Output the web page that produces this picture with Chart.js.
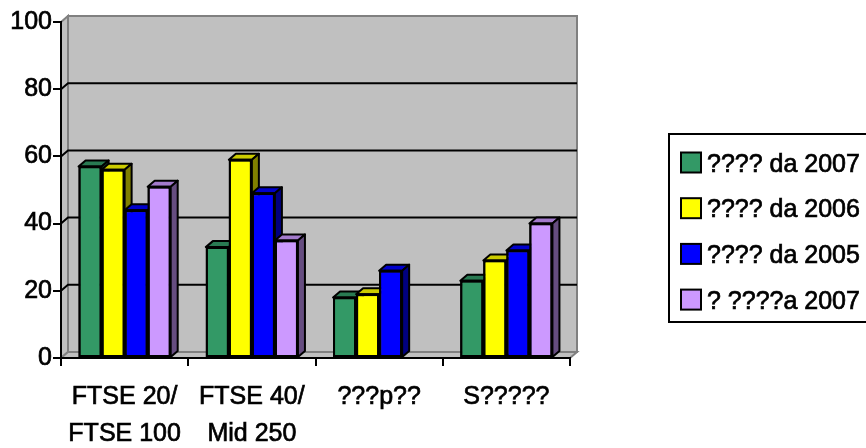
<!DOCTYPE html>
<html>
<head>
<meta charset="utf-8">
<script src="https://cdn.jsdelivr.net/npm/chart.js@4/dist/chart.umd.min.js"></script>
<style>
  html, body { margin: 0; padding: 0; background: #ffffff; overflow: hidden; }
  #wrap { width: 866px; height: 448px; position: relative; }
</style>
</head>
<body>
<div id="wrap"><canvas id="chart" width="866" height="448"></canvas></div>
<script>
// ---- data ----
const categories = [['FTSE 20/', 'FTSE 100'], ['FTSE 40/', 'Mid 250'], '???p??', 'S?????'];
const seriesNames = ['???? da 2007', '???? da 2006', '???? da 2005', '? ????a 2007'];
const values2007 = [57, 33, 18, 23];
const values2006 = [56, 59, 19, 29];
const values2005 = [44, 49, 26, 32];
const valuesAlt2007 = [51, 35, null, 40];
const yTickValues = [0, 20, 40, 60, 80, 100];

// ---- look ----
const seriesColors = ['#339966', '#ffff00', '#0000ff', '#cc99ff'];
const FONT = "'Liberation Sans', Arial, sans-serif";
const TEXT_STROKE = 0.7;         // slightly heavier lettering
const DX = 7, DY = 6;            // oblique depth of walls and columns
const WALL = '#c0c0c0', WALL_EDGE = '#808080';

function shade(hex, f) {
  const n = parseInt(hex.slice(1), 16);
  const r = Math.round(((n >> 16) & 255) * f);
  const g = Math.round(((n >> 8) & 255) * f);
  const b = Math.round((n & 255) * f);
  return `rgb(${r},${g},${b})`;
}

function poly(ctx, pts, fill, stroke, lw) {
  ctx.beginPath();
  ctx.moveTo(pts[0][0], pts[0][1]);
  for (let i = 1; i < pts.length; i++) ctx.lineTo(pts[i][0], pts[i][1]);
  ctx.closePath();
  if (fill) { ctx.fillStyle = fill; ctx.fill(); }
  if (stroke) { ctx.strokeStyle = stroke; ctx.lineWidth = lw || 1; ctx.stroke(); }
}

// Walls, floor and back gridlines of the 3-D box
const boxPlugin = {
  id: 'box3d',
  beforeDraw(chart) {
    const { ctx, chartArea: a, scales: { y } } = chart;
    const L = a.left, R = a.right, T = a.top, B = a.bottom;
    ctx.save();
    ctx.lineJoin = 'miter';
    // back wall
    poly(ctx, [[L + DX, T - DY], [R + DX, T - DY], [R + DX, B - DY], [L + DX, B - DY]], WALL, WALL_EDGE, 2);
    // side wall
    poly(ctx, [[L, T], [L + DX, T - DY], [L + DX, B - DY], [L, B]], WALL, WALL_EDGE, 2);
    // floor
    poly(ctx, [[L, B], [L + DX, B - DY], [R + DX, B - DY], [R, B]], WALL, WALL_EDGE, 2);
    // gridlines on side and back walls
    ctx.strokeStyle = '#000000';
    ctx.lineWidth = 2;
    yTickValues.forEach(v => {
      if (v === y.min || v === y.max) return;
      const py = y.getPixelForValue(v);
      ctx.beginPath();
      ctx.moveTo(L, py);
      ctx.lineTo(L + DX, py - DY);
      ctx.lineTo(R + DX, py - DY);
      ctx.stroke();
    });
    ctx.restore();
  },
  // columns drawn left to right so each one hides the side of its neighbour
  afterDatasetsDraw(chart) {
    const { ctx } = chart;
    ctx.save();
    chart.data.datasets.forEach((ds, i) => {
      const meta = chart.getDatasetMeta(i);
      const base = ds.backgroundColor;
      meta.data.forEach((bar, j) => {
        if (ds.data[j] == null) return;
        const p = bar.getProps(['x', 'y', 'width', 'base'], true);
        const l = p.x - p.width / 2, r = p.x + p.width / 2;
        const top = p.y, bot = p.base;
        bar.draw(ctx, chart.chartArea);
        ctx.lineJoin = 'round';
        poly(ctx, [[l, top], [l + DX, top - DY], [r + DX, top - DY], [r, top]], shade(base, 0.8), '#000000', 2);
        poly(ctx, [[r, top], [r + DX, top - DY], [r + DX, bot - DY], [r, bot]], shade(base, 0.5), '#000000', 2);
        ctx.strokeStyle = '#000000';
        ctx.lineWidth = 2;
        ctx.strokeRect(l + 1, top, p.width - 2, bot - top);
      });
    });
    ctx.restore();
  },
  // boxed legend on the right
  afterDraw(chart) {
    const { ctx, chartArea: a } = chart;
    const bx = a.right + 99, by = 134, bh = 188;
    ctx.save();
    ctx.strokeStyle = '#000000';
    ctx.lineWidth = 2;
    ctx.beginPath();
    ctx.moveTo(chart.width + 5, by);
    ctx.lineTo(bx, by);
    ctx.lineTo(bx, by + bh);
    ctx.lineTo(chart.width + 5, by + bh);
    ctx.stroke();
    ctx.font = `25px ${FONT}`;
    ctx.textBaseline = 'alphabetic';
    ctx.textAlign = 'left';
    chart.data.datasets.forEach((ds, i) => {
      const cy = by + 28.5 + i * 45.7;
      ctx.fillStyle = ds.backgroundColor;
      ctx.lineWidth = 2;
      ctx.fillRect(bx + 12, cy - 10, 20, 20);
      ctx.strokeRect(bx + 12, cy - 10, 20, 20);
      ctx.fillStyle = '#000000';
      ctx.lineWidth = TEXT_STROKE;
      ctx.strokeText(ds.label, bx + 38, cy + 9);
      ctx.fillText(ds.label, bx + 38, cy + 9);
    });
    ctx.restore();
  }
};

const seriesValues = [values2007, values2006, values2005, valuesAlt2007];

new Chart(document.getElementById('chart'), {
  type: 'bar',
  data: {
    labels: categories,
    datasets: seriesNames.map((name, i) => ({
      label: name,
      data: seriesValues[i],
      backgroundColor: seriesColors[i],
      borderColor: '#000000',
      borderWidth: 2,
      borderSkipped: false,
      categoryPercentage: 0.724,
      barPercentage: 1.0
    }))
  },
  options: {
    responsive: false,
    devicePixelRatio: 1,
    animation: false,
    layout: { padding: { left: 0, right: 296, top: 22, bottom: 0 } },
    plugins: { legend: { display: false }, tooltip: { enabled: false } },
    scales: {
      x: {
        offset: true,
        grid: { offset: true, drawOnChartArea: false, drawTicks: true, tickLength: 8, color: '#000000', lineWidth: 2 },
        border: { display: true, color: '#000000', width: 2 },
        ticks: {
          color: '#000000', padding: 13, maxRotation: 0, autoSkip: false,
          textStrokeColor: '#000000', textStrokeWidth: TEXT_STROKE,
          font: { family: FONT, size: 25, lineHeight: 1.48 }
        },
        afterFit(s) { s.height = 90; }
      },
      y: {
        min: 0,
        max: 100,
        afterBuildTicks(s) { s.ticks = yTickValues.map(v => ({ value: v })); },
        grid: { drawOnChartArea: false, drawTicks: true, tickLength: 8, color: '#000000', lineWidth: 2 },
        border: { display: true, color: '#000000', width: 2 },
        ticks: {
          color: '#000000', padding: 1,
          textStrokeColor: '#000000', textStrokeWidth: TEXT_STROKE,
          font: { family: FONT, size: 25 }
        },
        afterFit(s) { s.width = 61; }
      }
    }
  },
  plugins: [boxPlugin]
});
</script>
</body>
</html>
